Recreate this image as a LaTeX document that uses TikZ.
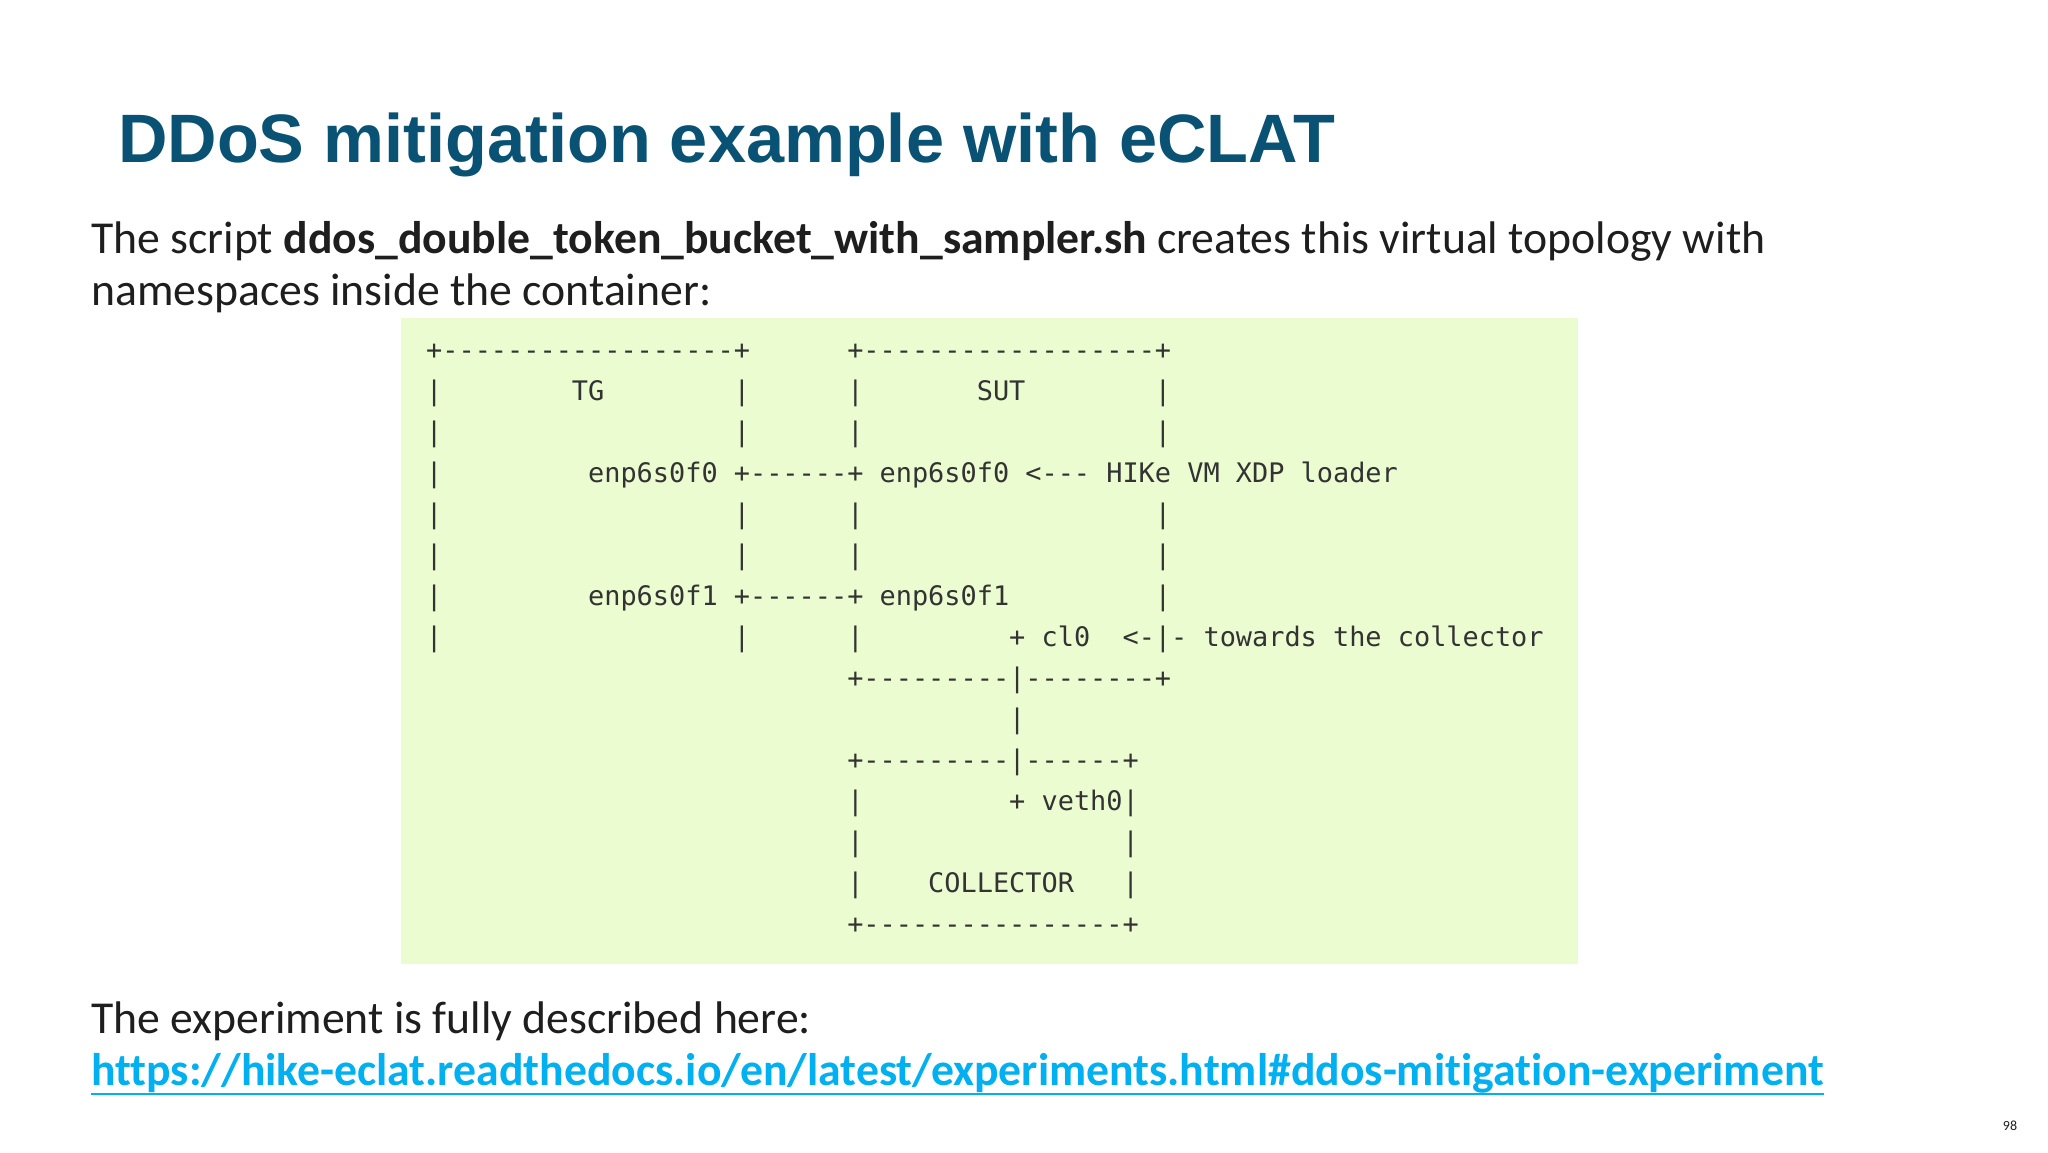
\documentclass[tikz,border=0pt]{standalone}
\usepackage{fontspec}
\setmainfont{Carlito}[Ligatures={TeX,CommonOff}]
\newfontfamily\titlefont{Liberation Sans}
\setmonofont{DejaVu Sans Mono}
\definecolor{titleblue}{RGB}{10,82,116}
\definecolor{bodytext}{RGB}{30,30,30}
\definecolor{asciigray}{RGB}{51,51,51}
\definecolor{codegreen}{RGB}{235,252,208}
\definecolor{urlblue}{RGB}{0,176,240}
\newcommand\Sp[1]{\hspace*{\dimexpr #1\fontcharwd\font`x\relax}}
\tikzset{
  ascii/.style={font=\ttfamily\fontsize{26.9}{30}\selectfont, text=asciigray, anchor=base west, inner sep=0pt},
  bodyline/.style={font=\fontsize{45.7}{50}\selectfont, text=bodytext, anchor=base west, inner sep=0pt},
}
\begin{document}
\begin{tikzpicture}[x=1pt,y=-1pt]
\useasboundingbox (0,0) rectangle (2048,1152);
\fill[white] (0,0) rectangle (2048,1152);
% title
\node[anchor=base west, inner sep=0pt, text=titleblue, font=\titlefont\bfseries\fontsize{68.5}{80}\selectfont] (title) at (118,162) {DDoS mitigation example with eCLAT};
% intro text
\node[bodyline] (intro1) at (91,253) {The script \textbf{ddos\_double\_token\_bucket\_with\_sampler.sh} creates this virtual topology with};
\node[bodyline] (intro2) at (91,305) {namespaces inside the container:};
% code box
\fill[codegreen] (401,318) rectangle (1578,964);
\foreach \i/\txt in {
0/{+------------------+\Sp{6}+------------------+},
1/{|\Sp{8}TG\Sp{8}|\Sp{6}|\Sp{7}SUT\Sp{8}|},
2/{|\Sp{18}|\Sp{6}|\Sp{18}|},
3/{|\Sp{9}enp6s0f0 +------+ enp6s0f0 <--- HIKe VM XDP loader},
4/{|\Sp{18}|\Sp{6}|\Sp{18}|},
5/{|\Sp{18}|\Sp{6}|\Sp{18}|},
6/{|\Sp{9}enp6s0f1 +------+ enp6s0f1\Sp{9}|},
7/{|\Sp{18}|\Sp{6}|\Sp{9}+ cl0\Sp{2}<-|- towards the collector},
8/{\Sp{26}+---------|--------+},
9/{\Sp{36}|},
10/{\Sp{26}+---------|------+},
11/{\Sp{26}|\Sp{9}+ veth0|},
12/{\Sp{26}|\Sp{16}|},
13/{\Sp{26}|\Sp{4}COLLECTOR\Sp{3}|},
14/{\Sp{26}+----------------+}}
{\node[ascii] (line\i) at (426,359+41*\i) {\txt};}
% bottom text
\node[bodyline] (exp) at (91,1033) {The experiment is fully described here:};
\node[bodyline, text=urlblue, font=\bfseries\fontsize{45.7}{50}\selectfont] (url) at (91,1085) {https://hike-eclat.readthedocs.io/en/latest/experiments.html\#ddos-mitigation-experiment};
\draw[urlblue, line width=2.5pt] ([yshift=-9pt]url.base west) -- ([yshift=-9pt]url.base east);
% page number
\node[inner sep=0pt, text=bodytext, font=\fontsize{14}{16}\selectfont] (pagenum) at (2010,1126) {98};
\end{tikzpicture}
\end{document}
